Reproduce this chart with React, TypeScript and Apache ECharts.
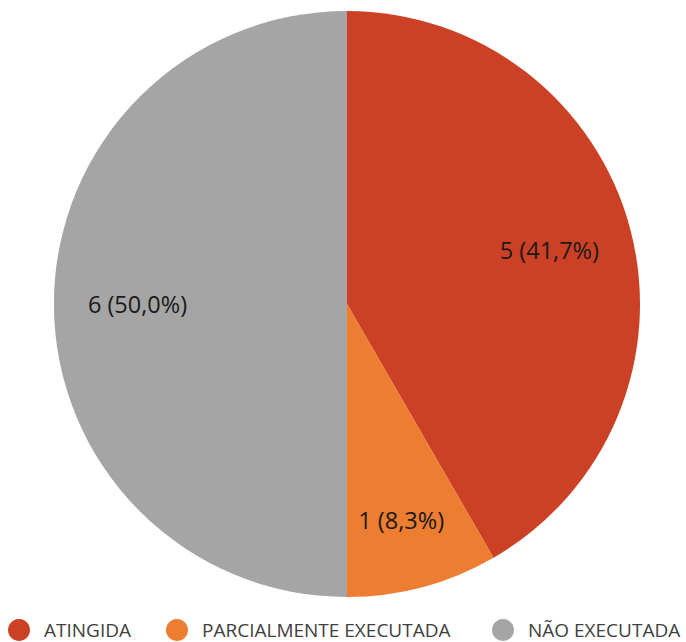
import React, { useEffect, useRef } from "react";
import * as echarts from "echarts";

const categories = ["ATINGIDA", "PARCIALMENTE EXECUTADA", "NÃO EXECUTADA"];
const values = [5, 1, 6];
const colors = ["#CC4125", "#ED7D31", "#A5A5A5"];

export default function App() {
  const ref = useRef<HTMLDivElement>(null);
  useEffect(() => {
    if (!ref.current) return;
    const chart = echarts.init(ref.current, undefined, { renderer: "svg" });
    const total = values.reduce((a, b) => a + b, 0);
    const data = categories.map((name, i) => ({
      name,
      value: values[i],
      itemStyle: { color: colors[i] },
    }));
    const font = "'Open Sans', 'Noto Sans', sans-serif";
    const legendLefts = [8, 166, 492];
    chart.setOption({
      animation: false,
      legend: categories.map((name, i) => ({
        data: [{ name, itemStyle: { color: colors[i] } }],
        left: legendLefts[i],
        top: 619,
        padding: 0,
        icon: "circle",
        itemWidth: 40,
        itemHeight: 22,
        textStyle: { fontFamily: font, fontSize: 19, color: "#404040" },
      })),
      series: [
        {
          type: "pie",
          center: [347, 304],
          radius: [0, 293],
          startAngle: 90,
          clockwise: true,
          label: { show: false },
          labelLine: { show: false },
          data,
          silent: true,
        },
        {
          type: "pie",
          center: [347, 304],
          radius: [120, 293],
          startAngle: 90,
          clockwise: true,
          itemStyle: { color: "transparent" },
          label: {
            show: true,
            position: "inside",
            fontFamily: font,
            fontSize: 23.5,
            color: "#1a1a1a",
            formatter: (p: any) =>
              `${p.value} (${((p.value / total) * 100).toFixed(1).replace(".", ",")}%)`,
          },
          labelLayout: (p: any) => (p.dataIndex === 1 ? { dy: 14 } : {}),
          labelLine: { show: false },
          data: categories.map((name, i) => ({ name: name, value: values[i] })),
          silent: true,
        },
      ],
    });
    return () => chart.dispose();
  }, []);
  return (
    <div
      ref={ref}
      style={{ position: "fixed", left: 0, top: 0, width: 686, height: 642, background: "#fff" }}
    />
  );
}
